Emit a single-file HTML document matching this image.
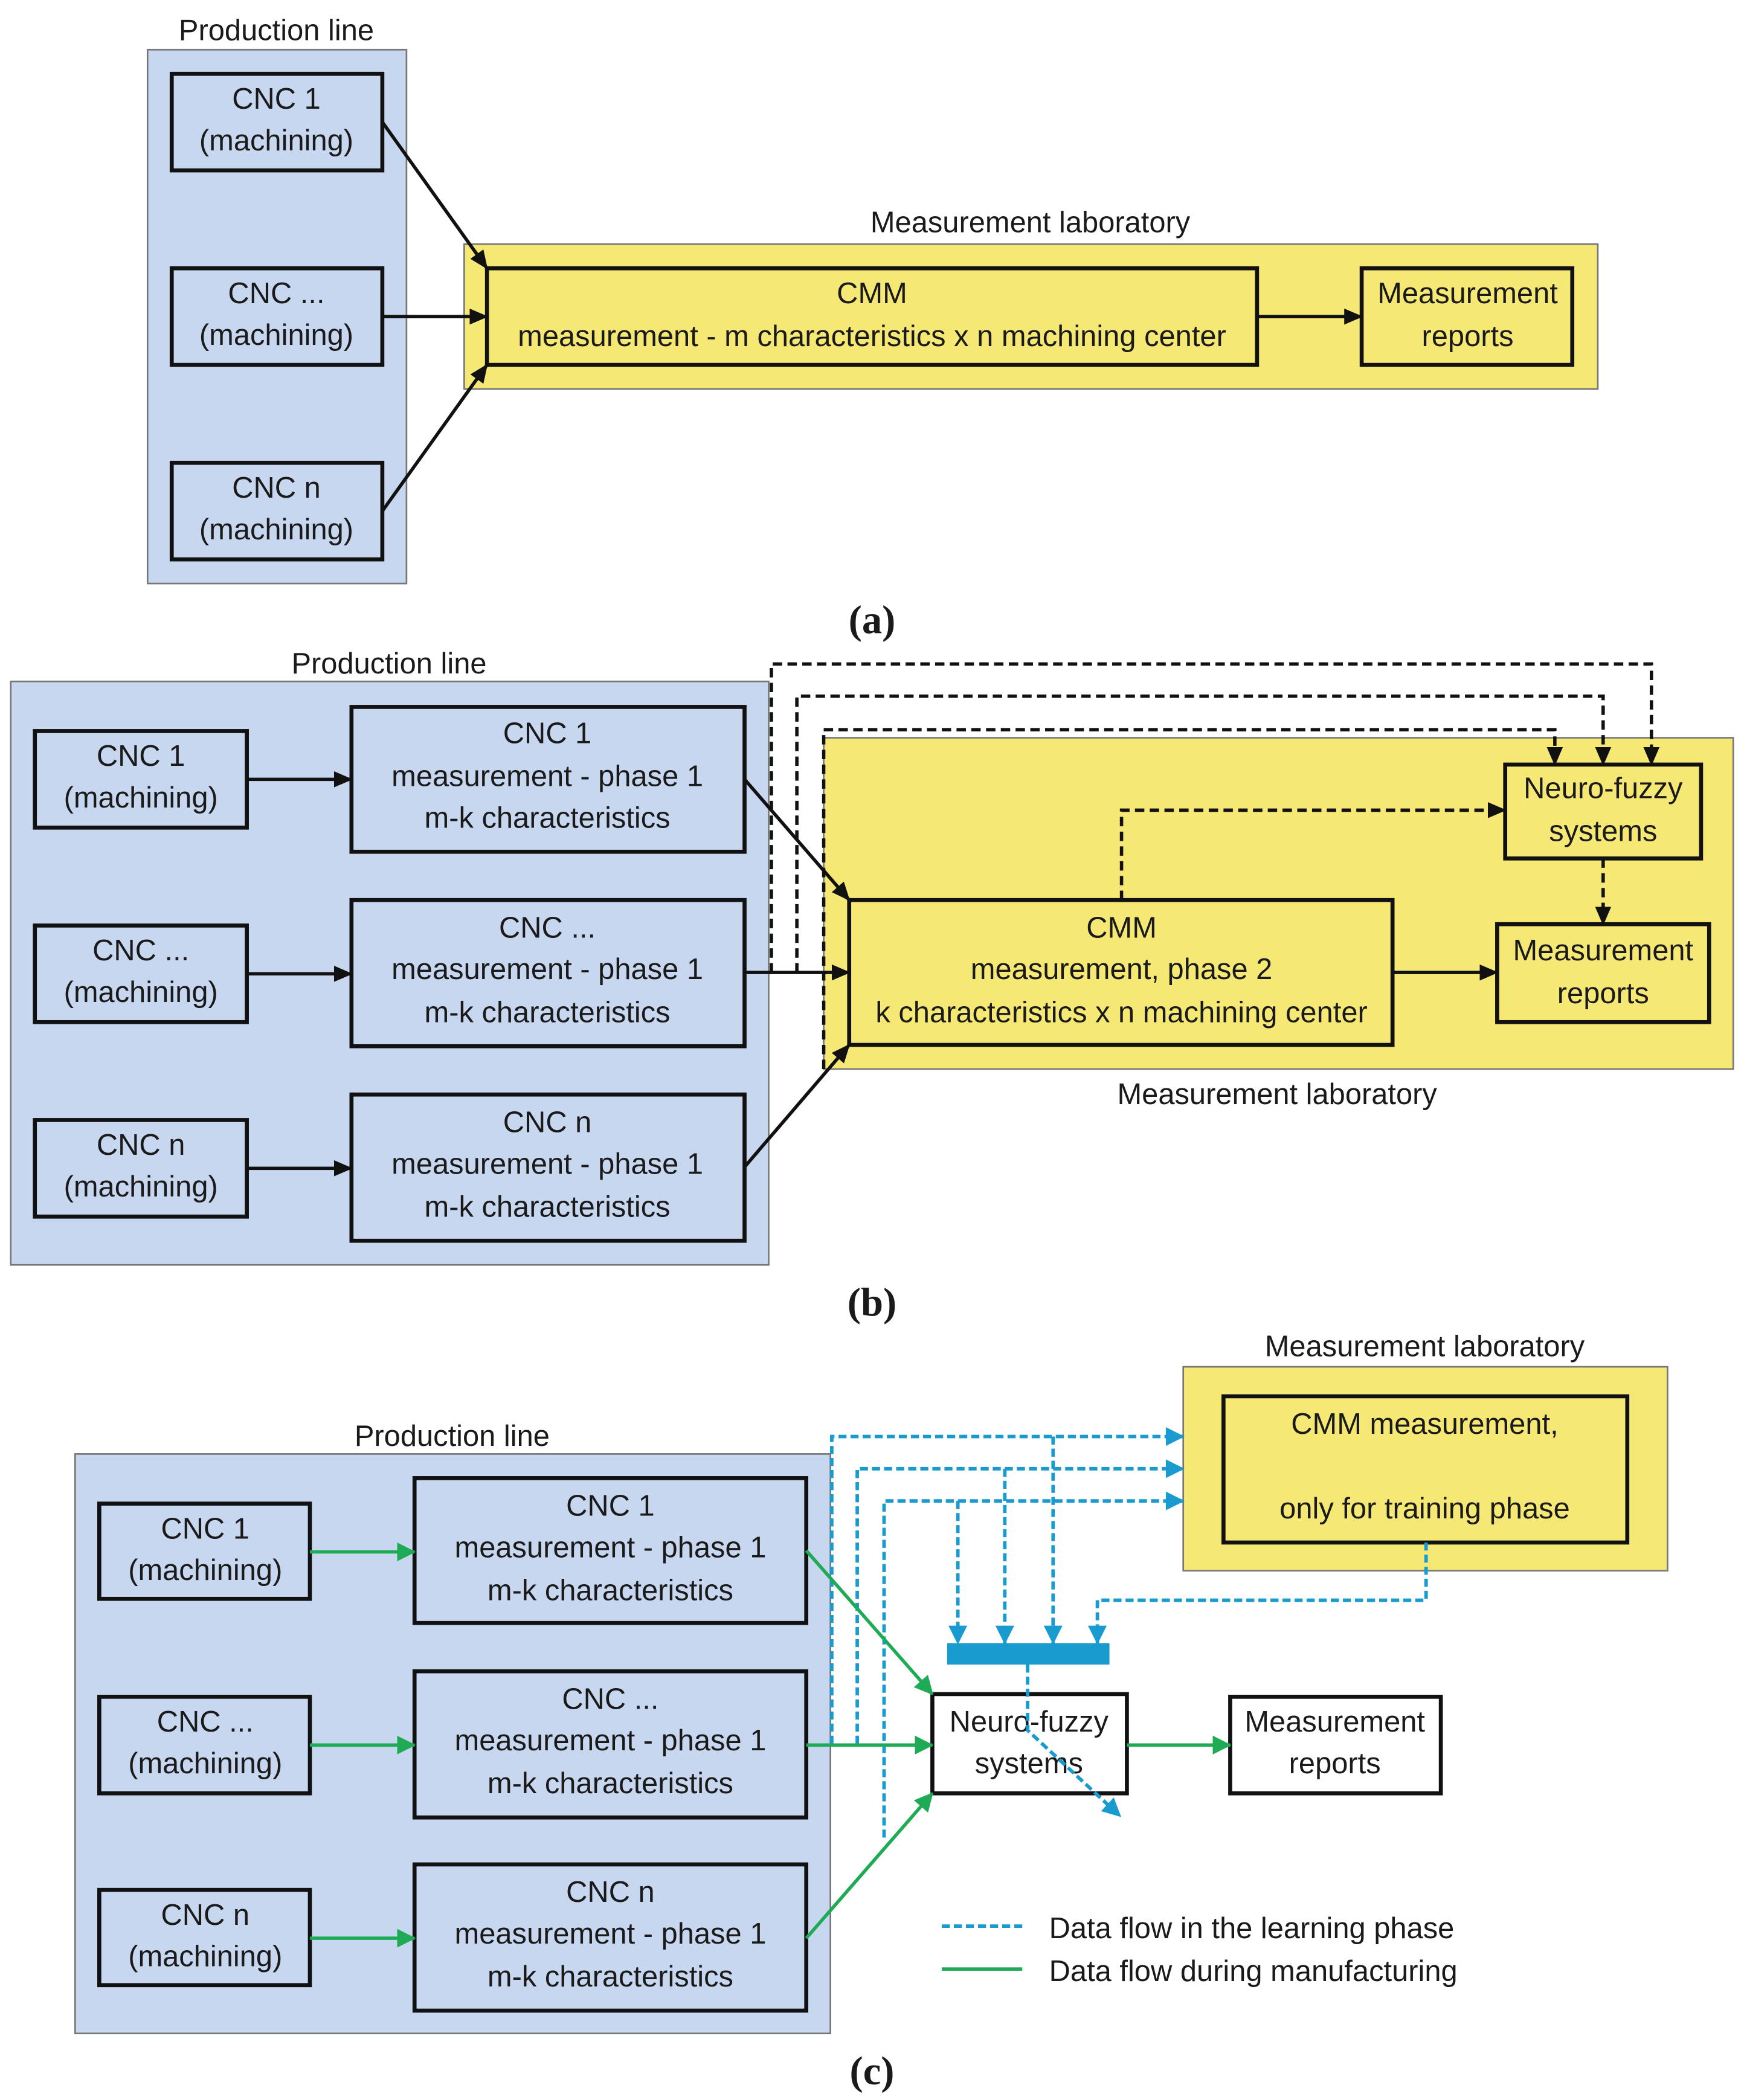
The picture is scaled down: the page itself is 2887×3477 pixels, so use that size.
<!DOCTYPE html>
<html><head><meta charset="utf-8"><style>
html,body{margin:0;padding:0;background:#fff}
svg{display:block}
text{font-family:"Liberation Sans",sans-serif;font-size:22px;fill:#1a1a1a;text-anchor:middle}
.cap{font-family:"Liberation Serif",serif;font-weight:bold;font-size:30px}
.l{text-anchor:start}
</style></head><body>
<svg width="2887" height="3477" viewBox="0 0 1300 1565.6" xmlns="http://www.w3.org/2000/svg">
<defs>
<marker id="ak" markerWidth="14" markerHeight="14" refX="13" refY="7" orient="auto" markerUnits="userSpaceOnUse"><path d="M0,1 L14,7 L0,13 z" fill="#111"/></marker>
<marker id="ab" markerWidth="14" markerHeight="14" refX="13" refY="7" orient="auto" markerUnits="userSpaceOnUse"><path d="M0,0 L14,7 L0,14 z" fill="#1a9bd0"/></marker>
<marker id="ag" markerWidth="14" markerHeight="14" refX="13" refY="7" orient="auto" markerUnits="userSpaceOnUse"><path d="M0,0 L14,7 L0,14 z" fill="#1faa55"/></marker>
</defs>
<!-- (a) -->
<text x="206" y="30">Production line</text>
<rect x="110" y="37" width="193" height="398" fill="#c8d7f0" stroke="#777" stroke-width="1.2"/>
<g fill="#c8d7f0" stroke="#111" stroke-width="3">
<rect x="128" y="55" width="157" height="72"/><rect x="128" y="200" width="157" height="72"/><rect x="128" y="345" width="157" height="72"/>
</g>
<text x="206" y="81">CNC 1</text><text x="206" y="112">(machining)</text>
<text x="206" y="226">CNC ...</text><text x="206" y="257">(machining)</text>
<text x="206" y="371">CNC n</text><text x="206" y="402">(machining)</text>
<text x="768" y="173">Measurement laboratory</text>
<rect x="346" y="182" width="845" height="108" fill="#f5e874" stroke="#777" stroke-width="1.2"/>
<g fill="#f5e874" stroke="#111" stroke-width="3">
<rect x="363" y="200" width="574" height="72"/><rect x="1015" y="200" width="157" height="72"/>
</g>
<text x="650" y="226">CMM</text><text x="650" y="258">measurement - m characteristics x n machining center</text>
<text x="1094" y="226">Measurement</text><text x="1094" y="258">reports</text>
<g stroke="#111" stroke-width="2.5" marker-end="url(#ak)">
<line x1="285" y1="91" x2="363" y2="200"/><line x1="285" y1="236" x2="363" y2="236"/><line x1="285" y1="381" x2="363" y2="272"/><line x1="937" y1="236" x2="1015" y2="236"/>
</g>
<text class="cap" x="650" y="472">(a)</text>
<!-- (b) -->
<text x="290" y="502">Production line</text>
<rect x="8" y="508" width="565" height="435" fill="#c8d7f0" stroke="#777" stroke-width="1.2"/>
<rect x="614" y="550" width="678" height="247" fill="#f5e874" stroke="#777" stroke-width="1.2"/>
<g fill="#c8d7f0" stroke="#111" stroke-width="3">
<rect x="26" y="545" width="158" height="72"/><rect x="26" y="690" width="158" height="72"/><rect x="26" y="835" width="158" height="72"/>
<rect x="262" y="527" width="293" height="108"/><rect x="262" y="671" width="293" height="109"/><rect x="262" y="816" width="293" height="109"/>
</g>
<g fill="#f5e874" stroke="#111" stroke-width="3">
<rect x="633" y="671" width="405" height="108"/><rect x="1122" y="570" width="146" height="70"/><rect x="1116" y="689" width="158" height="73"/>
</g>
<text x="105" y="571">CNC 1</text><text x="105" y="602">(machining)</text>
<text x="105" y="716">CNC ...</text><text x="105" y="747">(machining)</text>
<text x="105" y="861">CNC n</text><text x="105" y="892">(machining)</text>
<text x="408" y="554">CNC 1</text><text x="408" y="586">measurement - phase 1</text><text x="408" y="617">m-k characteristics</text>
<text x="408" y="699">CNC ...</text><text x="408" y="730">measurement - phase 1</text><text x="408" y="762">m-k characteristics</text>
<text x="408" y="844">CNC n</text><text x="408" y="875">measurement - phase 1</text><text x="408" y="907">m-k characteristics</text>
<text x="836" y="699">CMM</text><text x="836" y="730">measurement, phase 2</text><text x="836" y="762">k characteristics x n machining center</text>
<text x="1195" y="595">Neuro-fuzzy</text><text x="1195" y="627">systems</text>
<text x="1195" y="716">Measurement</text><text x="1195" y="748">reports</text>
<text x="952" y="823">Measurement laboratory</text>
<g stroke="#111" stroke-width="2.5" marker-end="url(#ak)">
<line x1="184" y1="581" x2="262" y2="581"/><line x1="184" y1="726" x2="262" y2="726"/><line x1="184" y1="871" x2="262" y2="871"/>
<line x1="555" y1="581" x2="633" y2="671"/><line x1="555" y1="725" x2="633" y2="725"/><line x1="555" y1="870" x2="633" y2="779"/>
<line x1="1038" y1="725" x2="1116" y2="725"/>
</g>
<g stroke="#111" stroke-width="2.5" fill="none" stroke-dasharray="7,4" marker-end="url(#ak)">
<polyline points="575,725 575,495 1231,495 1231,570"/>
<polyline points="594,725 594,519 1195,519 1195,570"/>
<polyline points="614,797 614,544 1159,544 1159,570"/>
<polyline points="836,671 836,604 1122,604"/>
<line x1="1195" y1="640" x2="1195" y2="689"/>
</g>
<text class="cap" x="650" y="981">(b)</text>
<!-- (c) -->
<text x="1062" y="1011">Measurement laboratory</text>
<rect x="882" y="1019" width="361" height="152" fill="#f5e874" stroke="#777" stroke-width="1.2"/>
<rect x="912" y="1041" width="301" height="109" fill="#f5e874" stroke="#111" stroke-width="3"/>
<text x="1062" y="1069">CMM measurement,</text><text x="1062" y="1132">only for training phase</text>
<text x="337" y="1078">Production line</text>
<rect x="56" y="1084" width="563" height="432" fill="#c8d7f0" stroke="#777" stroke-width="1.2"/>
<g fill="#c8d7f0" stroke="#111" stroke-width="3">
<rect x="74" y="1121" width="157" height="71"/><rect x="74" y="1265" width="157" height="72"/><rect x="74" y="1409" width="157" height="71"/>
<rect x="309" y="1102" width="292" height="108"/><rect x="309" y="1246" width="292" height="109"/><rect x="309" y="1390" width="292" height="109"/>
</g>
<g fill="#fff" stroke="#111" stroke-width="3">
<rect x="695" y="1263" width="145" height="74"/><rect x="917" y="1265" width="157" height="72"/>
</g>
<text x="153" y="1147">CNC 1</text><text x="153" y="1178">(machining)</text>
<text x="153" y="1291">CNC ...</text><text x="153" y="1322">(machining)</text>
<text x="153" y="1435">CNC n</text><text x="153" y="1466">(machining)</text>
<text x="455" y="1130">CNC 1</text><text x="455" y="1161">measurement - phase 1</text><text x="455" y="1193">m-k characteristics</text>
<text x="455" y="1274">CNC ...</text><text x="455" y="1305">measurement - phase 1</text><text x="455" y="1337">m-k characteristics</text>
<text x="455" y="1418">CNC n</text><text x="455" y="1449">measurement - phase 1</text><text x="455" y="1481">m-k characteristics</text>
<text x="767" y="1291">Neuro-fuzzy</text><text x="767" y="1322">systems</text>
<text x="995" y="1291">Measurement</text><text x="995" y="1322">reports</text>
<rect x="706" y="1225" width="121" height="16" fill="#1a9bd0"/>
<g stroke="#1a9bd0" stroke-width="2.6" fill="none" stroke-dasharray="6,3" marker-end="url(#ab)">
<polyline points="620,1300 620,1071 882,1071"/>
<polyline points="639,1300 639,1095 882,1095"/>
<polyline points="659,1370 659,1119 882,1119"/>
<line x1="714" y1="1119" x2="714" y2="1225"/>
<line x1="749" y1="1095" x2="749" y2="1225"/>
<line x1="785" y1="1071" x2="785" y2="1225"/>
<polyline points="1063,1150 1063,1193 818,1193 818,1225"/>
<polyline points="766,1241 766,1290 835,1354"/>
</g>
<g stroke="#1faa55" stroke-width="2.5" marker-end="url(#ag)">
<line x1="231" y1="1157" x2="309" y2="1157"/><line x1="231" y1="1301" x2="309" y2="1301"/><line x1="231" y1="1445" x2="309" y2="1445"/>
<line x1="601" y1="1156" x2="695" y2="1263"/><line x1="601" y1="1301" x2="695" y2="1301"/><line x1="601" y1="1445" x2="695" y2="1337"/>
<line x1="840" y1="1301" x2="917" y2="1301"/>
</g>
<line x1="702" y1="1436" x2="762" y2="1436" stroke="#1a9bd0" stroke-width="2.6" stroke-dasharray="6,3"/>
<line x1="702" y1="1468" x2="762" y2="1468" stroke="#1faa55" stroke-width="2.5"/>
<text class="l" x="782" y="1445">Data flow in the learning phase</text>
<text class="l" x="782" y="1477">Data flow during manufacturing</text>
<text class="cap" x="650" y="1554">(c)</text>
</svg>
</body></html>
